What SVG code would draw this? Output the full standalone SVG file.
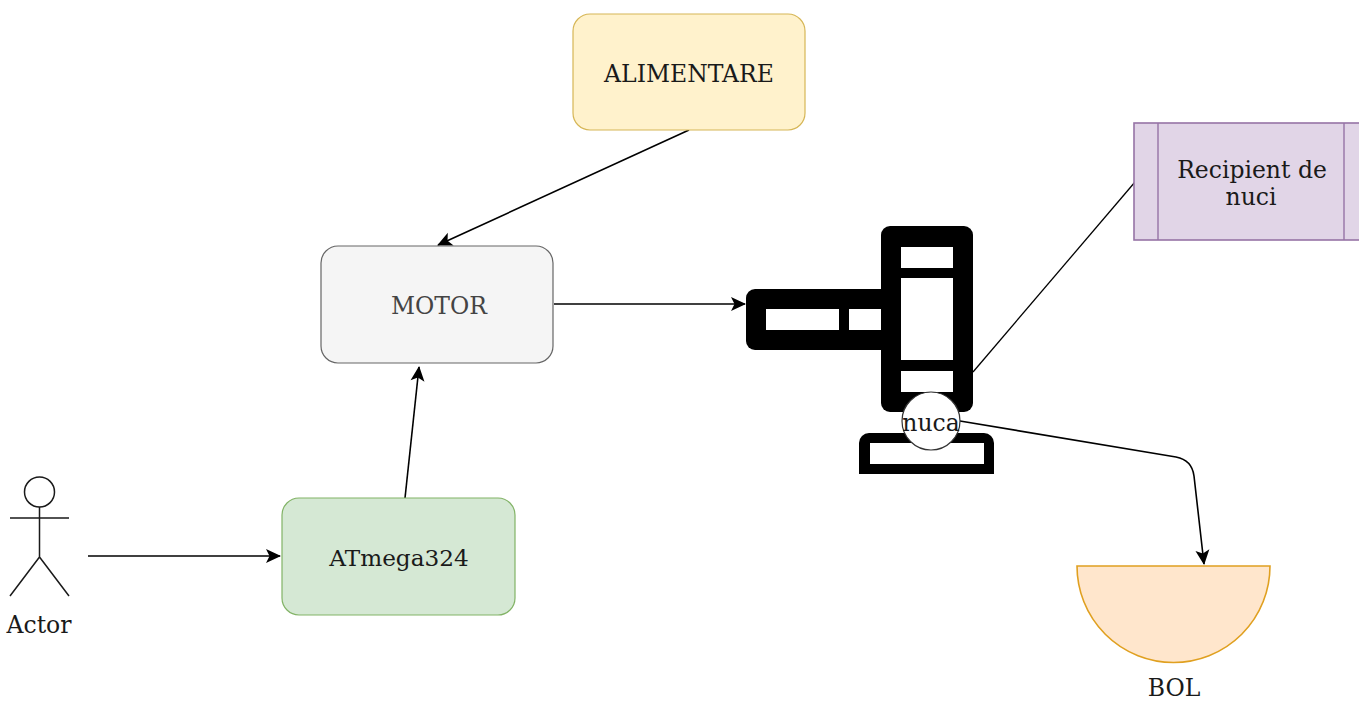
<svg xmlns="http://www.w3.org/2000/svg" width="1359" height="702" viewBox="0 0 1359 702">
<style>
text{font-family:"DejaVu Serif",serif;font-size:23.500px;fill:#1a1a1a;text-anchor:middle}
.c{fill:none;stroke:#000;stroke-width:1.6}
.k{fill:#000}.w{fill:#fff}
</style>
<defs><marker id="a" markerUnits="userSpaceOnUse" markerWidth="18" markerHeight="18" refX="15" refY="9" orient="auto"><path d="M1 2L16 9L1 16L4.500 9Z" fill="#000"/></marker></defs>
<rect width="1359" height="702" fill="#fff"/>
<g id="robot">
<rect class="k" x="746" y="289" width="150" height="61" rx="9"/>
<rect class="k" x="881" y="226" width="92" height="186" rx="9"/>
<path class="k" d="M859 474V443a10 10 0 0 1 10-10H984a10 10 0 0 1 10 10V474Z"/>
<rect class="w" x="766" y="309" width="73" height="21"/>
<rect class="w" x="849" y="309" width="32" height="21"/>
<rect class="w" x="901" y="247" width="52" height="21"/>
<rect class="w" x="901" y="278" width="52" height="82"/>
<rect class="w" x="901" y="371" width="52" height="21"/>
<rect class="w" x="870" y="443" width="114" height="21"/>
</g>
<g id="connectors">
<path class="c" d="M689 130L438 245" marker-end="url(#a)"/>
<path class="c" d="M554 304H745" marker-end="url(#a)"/>
<path class="c" d="M405 498L419 367" marker-end="url(#a)"/>
<path class="c" d="M88 556H280" marker-end="url(#a)"/>
<path class="c" d="M973 372L1135 182" style="stroke-width:1.300px"/>
<path class="c" d="M960 421L1176 457Q1192 460 1194 476L1204 564" marker-end="url(#a)"/>
</g>
<g id="alimentare"><rect x="573" y="14" width="232" height="116" rx="17" fill="#fff2cc" stroke="#d6b656" stroke-width="1.2"/><text x="689" y="82">ALIMENTARE</text></g>
<g id="motor"><rect x="321" y="246" width="232" height="117" rx="17" fill="#f5f5f5" stroke="#666" stroke-width="1.2"/><text x="439" y="314" style="fill:#444">MOTOR</text></g>
<g id="atmega"><rect x="282" y="498" width="233" height="117" rx="17" fill="#d5e8d4" stroke="#82b366" stroke-width="1.2"/><text x="399" y="566" style="font-size:23.200px">ATmega324</text></g>
<g id="recipient"><rect x="1134" y="123" width="240" height="117" fill="#e1d5e7" stroke="#9673a6" stroke-width="1.6"/><path d="M1158 123V240M1344 123V240" fill="none" stroke="#9673a6" stroke-width="1.4"/><text x="1252" y="178">Recipient de</text><text x="1251" y="205">nuci</text></g>
<g id="actor" fill="none" stroke="#1a1a1a" stroke-width="1.5"><circle cx="39.500" cy="492" r="15" fill="#fff"/><path d="M39.500 507V557M10 518H69M39.500 557L10 596M39.500 557L69 596"/><text x="39" y="633" stroke="none">Actor</text></g>
<g id="bol"><path d="M1077 566H1270A96.500 96.500 0 0 1 1077 566Z" fill="#ffe6cc" stroke="#e0a020" stroke-width="1.6"/><text x="1174" y="696">BOL</text></g>
<g id="nuca"><circle cx="931" cy="421" r="29" fill="#fff" stroke="#333" stroke-width="1.2"/><text x="931" y="431">nuca</text></g>
</svg>
